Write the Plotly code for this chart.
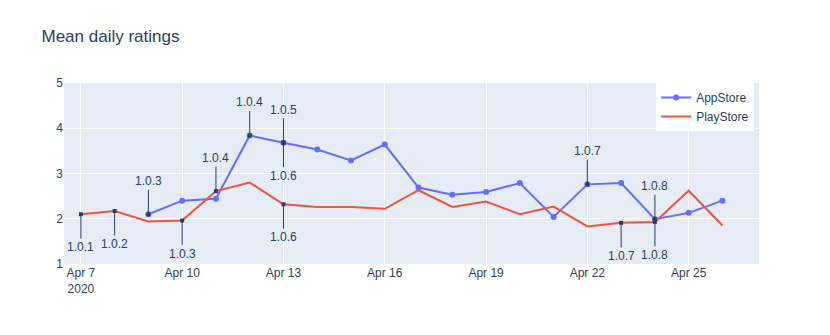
import plotly.graph_objects as go

# daily mean ratings
dates = ['2020-04-%02d' % d for d in range(7, 27)]
appstore = [None, None, 2.10, 2.40, 2.44, 3.84, 3.68, 3.53, 3.29, 3.64,
            2.69, 2.53, 2.59, 2.79, 2.04, 2.76, 2.79, 1.99, 2.13, 2.40]
playstore = [2.10, 2.17, 1.94, 1.96, 2.61, 2.80, 2.32, 2.26, 2.26, 2.22,
             2.63, 2.26, 2.38, 2.10, 2.27, 1.83, 1.91, 1.93, 2.62, 1.85]

# release versions
app_release_dates = ['2020-04-09', '2020-04-12', '2020-04-13', '2020-04-13', '2020-04-22', '2020-04-24']
app_versions = ['1.0.3', '1.0.4', '1.0.5', '1.0.6', '1.0.7', '1.0.8']
play_release_dates = ['2020-04-07', '2020-04-08', '2020-04-10', '2020-04-11',
                      '2020-04-13', '2020-04-23', '2020-04-24']
play_versions = ['1.0.1', '1.0.2', '1.0.3', '1.0.4', '1.0.6', '1.0.7', '1.0.8']

fig = go.Figure()

fig.add_trace(go.Scatter(x=dates, y=appstore, mode='lines+markers', name='AppStore',
                         line=dict(color='#636efa', width=2), marker=dict(size=6)))
fig.add_trace(go.Scatter(x=dates, y=playstore, mode='lines', name='PlayStore',
                         line=dict(color='#ef553b', width=2)))

# labels above or below the point
app_up = {'1.0.6': False}
play_up = {'1.0.4': True}

for d, v in zip(app_release_dates, app_versions):
    y = appstore[dates.index(d)]
    up = app_up.get(v, True)
    fig.add_annotation(x=d, y=y, text=v, showarrow=True, arrowhead=7,
                       ax=0, ay=-33 if up else 33)

for d, v in zip(play_release_dates, play_versions):
    y = playstore[dates.index(d)]
    up = play_up.get(v, False)
    fig.add_annotation(x=d, y=y, text=v, showarrow=True, arrowhead=7,
                       ax=0, ay=-33 if up else 33)

fig.update_layout(
    title=dict(text='Mean daily ratings', y=0.8925, yanchor='middle'),
    width=830, height=335,
    margin=dict(l=64, r=71, t=83, b=71),
    template='plotly',
    font=dict(family='Liberation Sans, Arial, sans-serif'),
    legend=dict(x=0.852, y=1),
)
fig.update_xaxes(range=['2020-04-06 12:00', '2020-04-27 02:00'])
fig.update_yaxes(range=[1, 5], dtick=1)

# page body margin off so the figure sits at the window origin
fig.write_html("out.html", config={'displayModeBar': False},
               post_script="document.body.style.margin = '0';")
